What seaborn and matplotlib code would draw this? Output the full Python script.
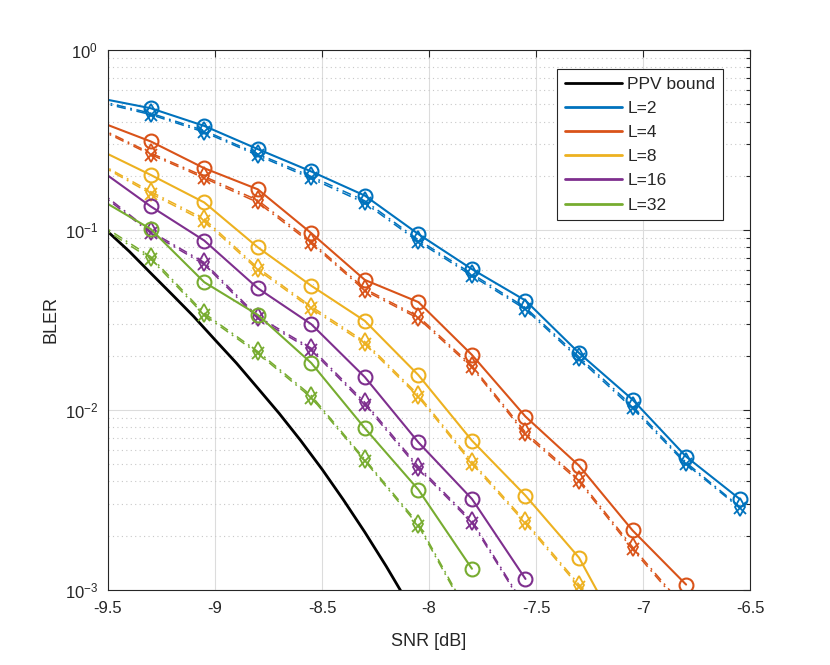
import numpy as np
import pandas as pd
import seaborn as sns
import matplotlib.pyplot as plt
from matplotlib.lines import Line2D
from matplotlib.ticker import LogLocator, NullFormatter

# SNR grid of the simulated points (first point sits just left of the axis)
snr = [-9.55, -9.3, -9.05, -8.8, -8.55, -8.3, -8.05, -7.8, -7.55, -7.3, -7.05, -6.8, -6.55]

# PPV bound (smooth curve)
ppv_snr = [-9.5, -9.4, -9.3, -9.2, -9.1, -9.0, -8.9, -8.8, -8.7, -8.6, -8.5, -8.4, -8.3, -8.2, -8.1]
ppv_bler = [0.0977, 0.0759, 0.0575, 0.0437, 0.0331, 0.0245, 0.0182, 0.0132, 0.00955,
            0.00676, 0.00468, 0.00316, 0.00209, 0.00135, 0.00085]

list_sizes = ["L=2", "L=4", "L=8", "L=16", "L=32"]
colors = ["#0072BD", "#D95319", "#EDB120", "#7E2F8E", "#77AC30"]

# solid curves, circle markers
bler_o = {
    "L=2": [0.542, 0.474, 0.378, 0.281, 0.211, 0.155, 0.0947, 0.0605, 0.0405, 0.0207, 0.0114, 0.0055, 0.0032],
    "L=4": [0.403, 0.310, 0.220, 0.168, 0.0958, 0.0527, 0.0397, 0.0202, 0.00918, 0.0049, 0.00214, 0.00107],
    "L=8": [0.282, 0.202, 0.142, 0.080, 0.0489, 0.0312, 0.0156, 0.00675, 0.00334, 0.00151, 0.00043],
    "L=16": [0.221, 0.135, 0.0872, 0.0474, 0.0299, 0.0152, 0.0066, 0.0032, 0.00115],
    "L=32": [0.151, 0.101, 0.0512, 0.0337, 0.0182, 0.0079, 0.0036, 0.00131],
}
# dash-dot curves, diamond markers
bler_d = {
    "L=2": [0.524, 0.445, 0.356, 0.264, 0.198, 0.145, 0.088, 0.057, 0.037, 0.0197, 0.0105, 0.0051, 0.0029],
    "L=4": [0.373, 0.267, 0.198, 0.146, 0.086, 0.047, 0.033, 0.0176, 0.0075, 0.0041, 0.00173, 0.00078],
    "L=8": [0.238, 0.163, 0.115, 0.0615, 0.0375, 0.0239, 0.0121, 0.00516, 0.0024, 0.00107, 0.0005],
    "L=16": [0.168, 0.098, 0.0659, 0.033, 0.022, 0.011, 0.00484, 0.00242, 0.0008],
    "L=32": [0.110, 0.071, 0.0344, 0.0211, 0.012, 0.0053, 0.00233, 0.00068],
}
# dash-dot curves, x markers
bler_x = {
    "L=2": [0.515, 0.437, 0.349, 0.259, 0.193, 0.141, 0.086, 0.0556, 0.0362, 0.0192, 0.0102, 0.0050, 0.00285],
    "L=4": [0.366, 0.262, 0.194, 0.142, 0.084, 0.046, 0.0322, 0.0172, 0.0073, 0.0040, 0.00168, 0.00076],
    "L=8": [0.234, 0.159, 0.112, 0.0600, 0.0366, 0.0233, 0.0118, 0.00503, 0.00234, 0.00104, 0.00049],
    "L=16": [0.164, 0.096, 0.0643, 0.0322, 0.0215, 0.0107, 0.00472, 0.00236, 0.00078],
    "L=32": [0.107, 0.069, 0.0336, 0.0206, 0.0117, 0.0052, 0.00227, 0.00066],
}

sns.set_theme(style="white")
plt.rcParams['font.family'] = ['Liberation Sans', 'DejaVu Sans']
plt.rcParams['mathtext.fontset'] = 'custom'
plt.rcParams['mathtext.rm'] = 'Liberation Sans'
plt.rcParams['mathtext.it'] = 'Liberation Sans:italic'

fig = plt.figure(figsize=(8.3, 6.65), dpi=100)
ax = fig.add_axes([0.13, 0.113, 0.774, 0.812])

dashdot = (0, (6, 3, 1.2, 3))

sns.lineplot(x=ppv_snr, y=ppv_bler, ax=ax, color="black", linewidth=2, sort=False)

for lab, c in zip(list_sizes, colors):
    y = bler_o[lab]
    sns.lineplot(x=snr[:len(y)], y=y, ax=ax, color=c, linewidth=1.5, sort=False,
                 marker="o", markersize=10, markerfacecolor="none",
                 markeredgecolor=c, markeredgewidth=1.5)
    y = bler_d[lab]
    sns.lineplot(x=snr[:len(y)], y=y, ax=ax, color=c, linewidth=1.1, sort=False,
                 linestyle=dashdot, marker="d", markersize=9, markerfacecolor="none",
                 markeredgecolor=c, markeredgewidth=1.3)
    y = bler_x[lab]
    sns.lineplot(x=snr[:len(y)], y=y, ax=ax, color=c, linewidth=1.1, sort=False,
                 linestyle=dashdot, marker="x", markersize=8,
                 markeredgecolor=c, markeredgewidth=1.3)

ax.set_yscale("log")
ax.set_xlim(-9.5, -6.5)
ax.set_ylim(1e-3, 1)
ax.set_xticks([-9.5, -9, -8.5, -8, -7.5, -7, -6.5])
ax.set_xticklabels(["-9.5", "-9", "-8.5", "-8", "-7.5", "-7", "-6.5"])
ax.yaxis.set_major_locator(LogLocator(base=10, numticks=10))
ax.yaxis.set_minor_locator(LogLocator(base=10, subs=np.arange(2, 10), numticks=20))
ax.yaxis.set_minor_formatter(NullFormatter())

ax.grid(True, which="major", color="#dcdcdc", linewidth=0.8, linestyle="-")
ax.grid(True, which="minor", axis="y", color="#c8c8c8", linewidth=0.8, linestyle=(0, (1, 3)))
ax.set_axisbelow(True)

ax.tick_params(which="both", direction="in", top=True, right=True, colors="#262626",
               labelsize=12, width=0.8)
ax.tick_params(which="major", length=5)
ax.tick_params(which="minor", length=3)
ax.tick_params(axis="x", pad=8)
ax.tick_params(axis="y", pad=7)
for s in ax.spines.values():
    s.set_color("#262626")
    s.set_linewidth(0.8)

ax.set_xlabel("SNR [dB]", fontsize=13, color="#262626", labelpad=12)
ax.set_ylabel("BLER", fontsize=13, color="#262626", labelpad=4)

handles = [Line2D([], [], color="black", linewidth=2)]
handles += [Line2D([], [], color=c, linewidth=2) for c in colors]
leg = ax.legend(handles, ["PPV bound"] + list_sizes, loc="upper right",
                bbox_to_anchor=(0.9575, 0.965), borderaxespad=0, fontsize=12.5,
                fancybox=False, framealpha=1, edgecolor="#262626", handlelength=3.3,
                handletextpad=0.3, labelspacing=0.52, borderpad=0.45)
leg.get_frame().set_linewidth(0.8)

fig.savefig("out.png", dpi=100)
